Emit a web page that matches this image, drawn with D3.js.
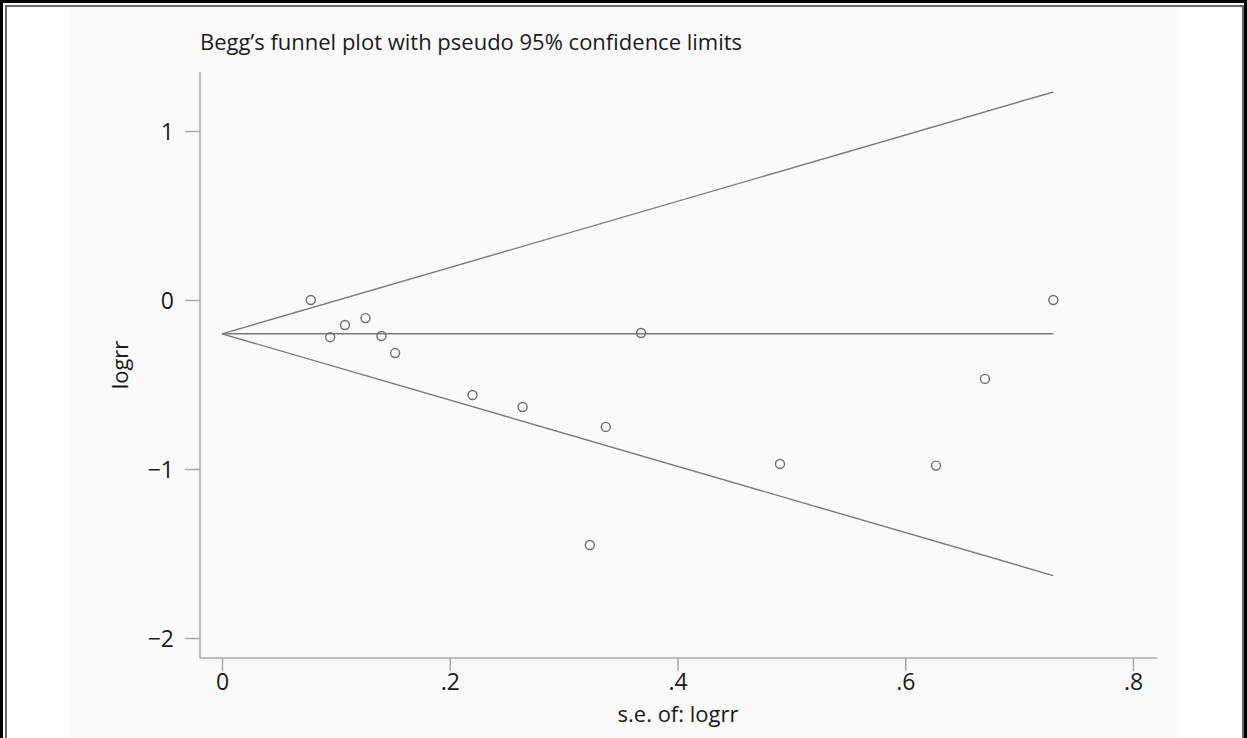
<!DOCTYPE html>
<html>
<head>
<meta charset="utf-8">
<script src="https://cdnjs.cloudflare.com/ajax/libs/d3/7.8.5/d3.min.js"></script>
<style>
  body { margin: 0; background: #fff; }
  svg { display: block; }
  text { font-family: "Open Sans", "Noto Sans", sans-serif; fill: #1a1a1a; }
</style>
</head>
<body>
<div id="chart"></div>
<script>
// study standard errors and log relative risks
var seValues  = [0.078, 0.095, 0.108, 0.126, 0.140, 0.152, 0.220, 0.264, 0.323, 0.337, 0.368, 0.490, 0.627, 0.670, 0.730];
var logrr     = [0.00, -0.22, -0.148, -0.107, -0.213, -0.314, -0.562, -0.633, -1.45, -0.751, -0.195, -0.97, -0.98, -0.467, 0.00];
var pooled    = -0.2;
var xTicks    = [0, 0.2, 0.4, 0.6, 0.8];
var xTickText = ["0", ".2", ".4", ".6", ".8"];
var yTicks    = [-2, -1, 0, 1];

var W = 1247, H = 738;

var svg = d3.select("#chart")
  .append("svg")
    .attr("width", W)
    .attr("height", H);

// frame: heavy black outer line, thin grey inner line
svg.append("path")
  .attr("d", "M1.5," + H + " V1.5 H" + (W - 1.5) + " V" + H)
  .attr("fill", "none").attr("stroke", "#000").attr("stroke-width", 3);
svg.append("path")
  .attr("d", "M6," + H + " V6 H" + (W - 4) + " V" + H)
  .attr("fill", "none").attr("stroke", "#666").attr("stroke-width", 2);

// light graph region
svg.append("rect")
  .attr("x", 70).attr("y", 8)
  .attr("width", 1110).attr("height", H - 8)
  .attr("fill", "#fafafa");

var x = d3.scaleLinear().domain([0, 0.8]).range([222, 1133]);
var y = d3.scaleLinear().domain([-2, 1]).range([638, 131]);

// axes
var xAxis = svg.append("g")
  .attr("transform", "translate(0,658)")
  .call(d3.axisBottom(x).tickValues(xTicks)
    .tickFormat(function(d, i) { return xTickText[i]; })
    .tickSize(13).tickSizeOuter(0));
xAxis.select(".domain").attr("d", "M200,0H1157");

var yAxis = svg.append("g")
  .attr("transform", "translate(200,0)")
  .call(d3.axisLeft(y).tickValues(yTicks)
    .tickFormat(function(d) { return d < 0 ? "\u2212" + Math.abs(d) : d; })
    .tickSize(15).tickSizeOuter(0));
yAxis.select(".domain").attr("d", "M0,72V658");

svg.selectAll(".domain, .tick line")
  .attr("stroke", "#a8a8a8").attr("stroke-width", 1.5);
svg.selectAll(".tick text")
  .attr("font-size", 23)
  .attr("font-family", "\"Open Sans\", sans-serif")
  .attr("fill", "#1a1a1a");
xAxis.selectAll(".tick text").attr("y", 16);
yAxis.selectAll(".tick text").attr("x", -26).attr("dy", "0.36em");

// pseudo 95% limits and pooled estimate
var seMax = d3.max(seValues);
var lines = [
  [[0, pooled], [seMax, pooled + 1.96 * seMax]],
  [[0, pooled], [seMax, pooled - 1.96 * seMax]],
  [[0, pooled], [seMax, pooled]]
];
svg.selectAll(".limit")
  .data(lines)
  .enter().append("line")
    .attr("class", "limit")
    .attr("x1", function(d) { return x(d[0][0]); })
    .attr("y1", function(d) { return y(d[0][1]); })
    .attr("x2", function(d) { return x(d[1][0]); })
    .attr("y2", function(d) { return y(d[1][1]); })
    .attr("stroke", "#7a7a7a")
    .attr("stroke-width", 1.4);

// studies
svg.selectAll(".study")
  .data(seValues)
  .enter().append("circle")
    .attr("class", "study")
    .attr("cx", function(d) { return x(d); })
    .attr("cy", function(d, i) { return y(logrr[i]); })
    .attr("r", 4.5)
    .attr("fill", "none")
    .attr("stroke", "#6e6e6e")
    .attr("stroke-width", 1.4);

// titles
svg.append("text")
  .attr("x", 200).attr("y", 50)
  .attr("font-size", 22)
  .text("Begg\u2019s funnel plot with pseudo 95% confidence limits");

svg.append("text")
  .attr("x", 678).attr("y", 722)
  .attr("text-anchor", "middle")
  .attr("font-size", 22)
  .text("s.e. of: logrr");

svg.append("text")
  .attr("transform", "translate(128,365) rotate(-90)")
  .attr("text-anchor", "middle")
  .attr("font-size", 22)
  .text("logrr");
</script>
</body>
</html>
